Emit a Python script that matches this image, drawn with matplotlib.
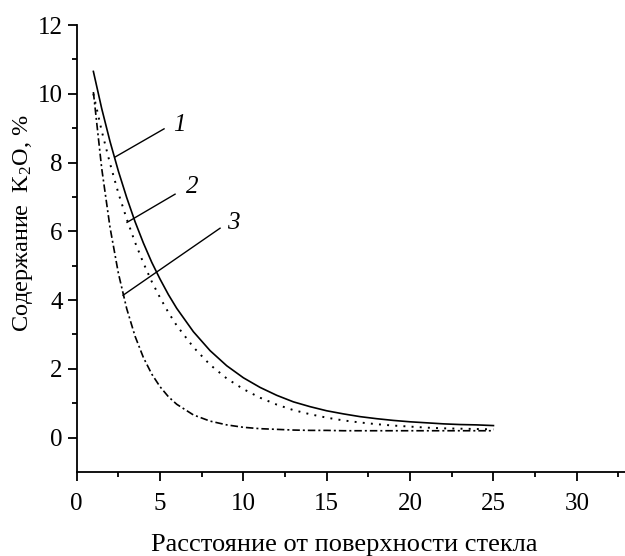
import matplotlib
matplotlib.use("Agg")
import matplotlib.pyplot as plt

plt.rcParams["font.family"] = ["Liberation Serif", "DejaVu Serif"]
plt.rcParams["mathtext.fontset"] = "custom"
plt.rcParams["mathtext.rm"] = "Liberation Serif"
plt.rcParams["mathtext.it"] = "Liberation Serif:italic"

# distance from the glass surface
distance = [1, 1.5, 2, 2.5, 3, 3.5, 4, 4.5, 5, 5.5, 6, 7, 8, 9, 10,
            11, 12, 13, 14, 15, 16, 17, 18, 19, 20, 21, 22, 23, 24, 25]

# K2O content, %, for the three profiles
k2o_1 = [10.65, 9.57, 8.61, 7.75, 6.98, 6.28, 5.66, 5.10, 4.61, 4.16, 3.76,
         3.08, 2.53, 2.09, 1.74, 1.46, 1.23, 1.04, 0.90, 0.78, 0.69, 0.61,
         0.55, 0.50, 0.46, 0.43, 0.40, 0.38, 0.37, 0.35]
k2o_2 = [10.00, 8.92, 7.97, 7.11, 6.36, 5.68, 5.08, 4.54, 4.07, 3.64, 3.26,
         2.63, 2.12, 1.72, 1.41, 1.16, 0.96, 0.80, 0.68, 0.58, 0.50, 0.44,
         0.39, 0.35, 0.32, 0.29, 0.27, 0.26, 0.25, 0.24]
k2o_3 = [10.05, 7.83, 6.11, 4.78, 3.75, 2.95, 2.33, 1.85, 1.48, 1.19, 0.97,
         0.66, 0.48, 0.37, 0.30, 0.26, 0.24, 0.22, 0.21, 0.21, 0.20, 0.20,
         0.20, 0.20, 0.20, 0.20, 0.20, 0.20, 0.20, 0.20]

curve_labels = ["1", "2", "3"]
# leader lines: point on the curve -> end near the number
leader_start = [(2.3, 8.16), (3.02, 6.26), (2.78, 4.14)]
leader_end = [(5.24, 8.98), (5.9, 7.08), (8.6, 6.09)]
label_pos = [(6.15, 9.1), (6.95, 7.3), (9.4, 6.25)]

x_ticks = [0, 5, 10, 15, 20, 25, 30]
y_ticks = [0, 2, 4, 6, 8, 10, 12]

W, H = 625, 556
fig = plt.figure(figsize=(W / 100, H / 100), dpi=100)
left, right, bottom, top = 76.7, 625, 472, 25
ax = fig.add_axes([left / W, 1 - bottom / H, (right - left) / W, (bottom - top) / H])

ax.plot(distance, k2o_1, color="black", lw=1.2, ls="-")
ax.plot(distance, k2o_2, color="black", lw=1.4, ls=(0, (1, 3.2)))
ax.plot(distance, k2o_3, color="black", lw=1.2, ls=(0, (4.5, 1.8, 1.2, 1.8)))

for lab, (x0, y0), (x1, y1), (tx, ty) in zip(curve_labels, leader_start, leader_end, label_pos):
    ax.plot([x0, x1], [y0, y1], color="black", lw=1.0)
    ax.text(tx, ty, lab, fontsize=18, style="italic", ha="center", va="center")

ax.set_xlim(0, (right - left) / 16.67)
ax.set_ylim(-1, 12)
ax.set_xticks(x_ticks)
ax.set_yticks(y_ticks)
ax.set_xticks([t + 2.5 for t in x_ticks], minor=True)
ax.set_yticks([t + 1 for t in y_ticks[:-1]], minor=True)

for side in ("top", "right"):
    ax.spines[side].set_visible(False)
for side in ("left", "bottom"):
    ax.spines[side].set_linewidth(1.3)

ax.tick_params(which="major", direction="out", length=6.5, width=1.3, labelsize=18)
ax.tick_params(which="minor", direction="out", length=3.6, width=1.3)
ax.tick_params(axis="x", which="major", pad=8.5)
ax.tick_params(axis="y", which="major", pad=3.5)

fig.text(344 / W, 1 - 551 / H, "Расстояние от поверхности стекла",
         fontsize=19, ha="center", va="baseline")
fig.text(23 / W, 1 - 223 / H, r"Содержание  K$_\mathrm{2}$O, %",
         fontsize=17.5, rotation=90, ha="center", va="center")

fig.savefig("out.png", dpi=100)
